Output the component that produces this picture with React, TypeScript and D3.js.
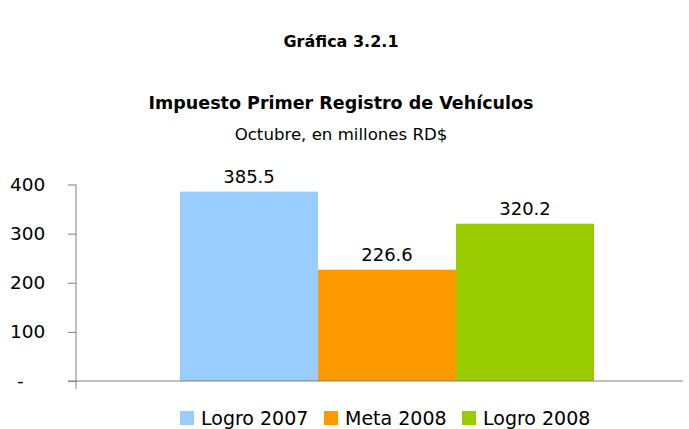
import React, { useEffect, useRef } from 'react';
import * as d3 from 'd3';

const categories = ['Logro 2007', 'Meta 2008', 'Logro 2008'];
const values = [385.5, 226.6, 320.2];
const colors = ['#99ccff', '#ff9900', '#99cc00'];
const yTicks = [0, 100, 200, 300, 400];

const App = () => {
  const svgRef = useRef<SVGSVGElement>(null);

  useEffect(() => {
    const width = 689;
    const height = 429;
    const font = "'DejaVu Sans', Tahoma, sans-serif";
    const svg = d3.select(svgRef.current);
    svg.selectAll('*').remove();
    svg.attr('width', width).attr('height', height).style('font-family', font);

    // titles
    svg.append('text').attr('x', 341).attr('y', 47).attr('text-anchor', 'middle')
      .style('font-size', '16px').style('font-weight', 'bold').text('Gráfica 3.2.1');
    svg.append('text').attr('x', 341).attr('y', 109).attr('text-anchor', 'middle')
      .style('font-size', '17.5px').style('font-weight', 'bold').text('Impuesto Primer Registro de Vehículos');
    svg.append('text').attr('x', 341).attr('y', 140).attr('text-anchor', 'middle')
      .style('font-size', '16.6px').text('Octubre, en millones RD$');

    const y = d3.scaleLinear().domain([0, 400]).range([381, 184.5]);
    const x = d3.scaleBand().domain(categories).range([180, 594]).padding(0);

    svg.selectAll('rect.bar')
      .data(values)
      .enter()
      .append('rect')
      .attr('class', 'bar')
      .attr('x', (d, i) => x(categories[i]) as number)
      .attr('y', d => y(d))
      .attr('width', x.bandwidth())
      .attr('height', d => y(0) - y(d))
      .style('fill', (d, i) => colors[i]);

    svg.selectAll('text.val')
      .data(values)
      .enter()
      .append('text')
      .attr('class', 'val')
      .attr('x', (d, i) => (x(categories[i]) as number) + x.bandwidth() / 2)
      .attr('y', d => y(d) - 9)
      .attr('text-anchor', 'middle')
      .style('font-size', '18px')
      .text(d => d.toFixed(1));

    const yAxis = svg.append('g')
      .attr('transform', 'translate(76,0)')
      .call(d3.axisLeft(y).tickValues(yTicks).tickSize(8).tickFormat(d => (+d === 0 ? '-' : String(d))));
    yAxis.select('.domain').remove();
    yAxis.selectAll('line').attr('stroke', '#808080');
    yAxis.selectAll('text').style('font-size', '18.5px').style('font-family', font).attr('fill', '#000')
      .attr('text-anchor', 'start').attr('x', -66);
    yAxis.selectAll('.tick').filter(d => d === 0).select('text').attr('x', -59);

    svg.append('line').attr('x1', 76).attr('x2', 76).attr('y1', y(400)).attr('y2', 389)
      .attr('stroke', '#808080');
    svg.append('line').attr('x1', 68).attr('x2', 683).attr('y1', y(0)).attr('y2', y(0))
      .attr('stroke', '#808080');

    // legend
    const legendX = [180, 324, 462];
    const legend = svg.selectAll('g.leg')
      .data(categories)
      .enter()
      .append('g')
      .attr('class', 'leg')
      .attr('transform', (d, i) => `translate(${legendX[i]},411)`);
    legend.append('rect').attr('width', 14).attr('height', 14).style('fill', (d, i) => colors[i]);
    legend.append('text').attr('x', 21).attr('y', 14).style('font-size', '19px').text(d => d);
  }, []);

  return (
    <div>
      <svg ref={svgRef} style={{ position: 'absolute', left: 0, top: 0 }}></svg>
    </div>
  );
};

export default App;
